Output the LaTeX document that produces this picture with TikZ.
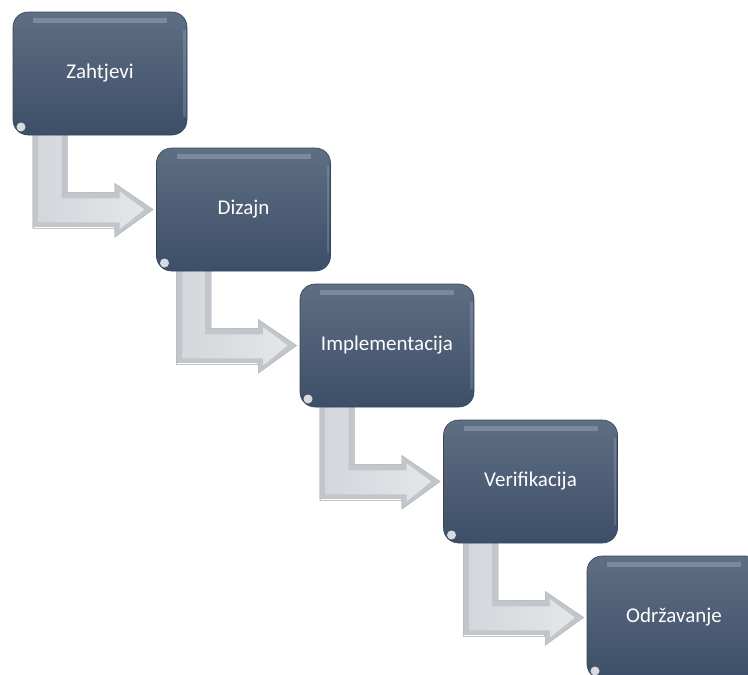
\documentclass[tikz,border=0pt]{standalone}
\usepackage{fontspec}
\setmainfont{Carlito}
\usetikzlibrary{calc,backgrounds}
\definecolor{boxtop}{HTML}{5E6E83}
\definecolor{boxbot}{HTML}{3D4E68}
\definecolor{boxedge}{HTML}{34445A}
\definecolor{arrout}{HTML}{C2C5C9}
\definecolor{arrin}{HTML}{D3D6DA}
\definecolor{arrhi}{HTML}{E4E7EA}
\tikzset{
  stagebox/.style={rounded corners=15pt, minimum width=174pt, minimum height=123pt,
    top color=boxtop, bottom color=boxbot, draw=boxedge, line width=0.6pt,
    text=white, font=\fontsize{21}{25}\selectfont, inner sep=0pt,
    path picture={
      \fill[sharp corners,white,opacity=0.2] ([xshift=20pt,yshift=-6pt]path picture bounding box.north west)
        rectangle ([xshift=-20pt,yshift=-11pt]path picture bounding box.north east);
      \fill[sharp corners,white,opacity=0.15] ([xshift=-4pt,yshift=18pt]path picture bounding box.south east)
        rectangle ([xshift=-1.5pt,yshift=-18pt]path picture bounding box.north east);
      \fill[white,opacity=0.8] ([xshift=8pt,yshift=8pt]path picture bounding box.south west) circle (4.5pt);
    }},
  bevelout/.style={fill=arrout, draw=arrout!90!black, line width=0.4pt},
  bevelin/.style={left color=arrin, right color=arrhi},
}
\begin{document}
\begin{tikzpicture}[x=1pt,y=-1pt]
\useasboundingbox (0,0) rectangle (748,675);
\node[stagebox] (z1) at (100,73.5) {Zahtjevi};
\node[stagebox] (z2) at (243.5,209.5) {Dizajn};
\node[stagebox] (z3) at (387,345.5) {Implementacija};
\node[stagebox] (z4) at (530.5,481.5) {Verifikacija};
\node[stagebox] (z5) at (674,617.5) {Održavanje};
\begin{scope}[on background layer]
\foreach \a/\b in {z1/z2,z2/z3,z3/z4,z4/z5}{
  \coordinate (o) at (\a.south west);
  \coordinate (t) at ($(\b.west)+(-3,0)$);
  \path[bevelout] ($(o)+(20,-6)$) -- ($(o)+(20,93)$) -- ($(o)+(102,93)$) -- ($(o)+(102,102)$)
     -- (t) -- ($(o)+(102,48)$) -- ($(o)+(102,57)$) -- ($(o)+(55,57)$) -- ($(o)+(55,-6)$) -- cycle;
  \path[bevelin] ($(o)+(26,-6)$) -- ($(o)+(26,87)$) -- ($(o)+(107,87)$) -- ($(o)+(107,94)$)
     -- ($(t)+(-9,0)$) -- ($(o)+(107,56)$) -- ($(o)+(107,63)$) -- ($(o)+(49,63)$) -- ($(o)+(49,-6)$) -- cycle;
  \draw[white,line width=1.5pt] ($(o)+(21,92)$) -- ($(o)+(101,92)$);
}
\end{scope}
\end{tikzpicture}
\end{document}
